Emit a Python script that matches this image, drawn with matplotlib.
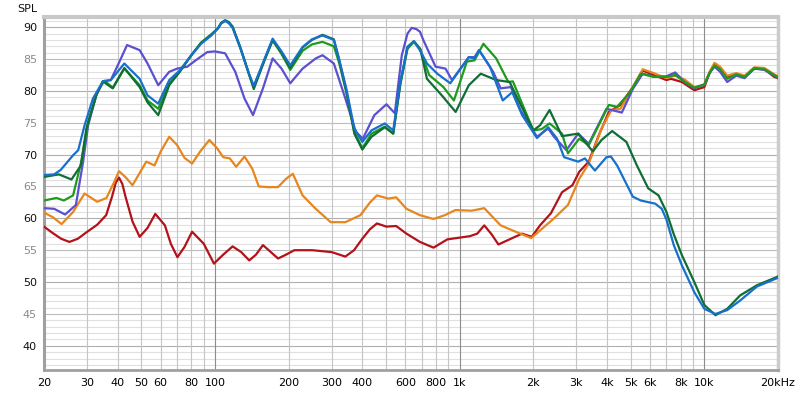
import matplotlib
matplotlib.use('Agg')
import matplotlib.pyplot as plt

# frequency (Hz), level (dB SPL)
red_pts = [(20, 58.7), (21.7, 57.7), (23.5, 56.8), (25.4, 56.3), (27.5, 56.8), (29.8, 57.8), (33, 59.0),
           (35.9, 60.5), (38, 63.5), (39.3, 65.6), (40.5, 66.4), (41.8, 65.4), (43, 63.5), (46, 59.5),
           (49.2, 57.1), (53, 58.5), (57, 60.7), (62.4, 58.9), (66, 56.0), (70.2, 53.9), (75, 55.5),
           (80.6, 57.9), (90, 56.0), (99, 52.9), (108, 54.3), (118, 55.6), (128, 54.7), (138, 53.4),
           (147, 54.3), (157, 55.8), (168, 54.8), (181, 53.7), (195, 54.3), (211, 55.0), (250, 55.0),
           (300, 54.7), (341, 54.0), (370, 55.0), (400, 56.8), (430, 58.3), (459, 59.2), (502, 58.7),
           (550, 58.8), (606, 57.6), (688, 56.3), (782, 55.4), (890, 56.7), (1100, 57.2), (1180, 57.6),
           (1260, 58.9), (1350, 57.5), (1440, 55.9), (1640, 56.9), (1800, 57.6), (1970, 57.1),
           (2130, 58.9), (2360, 60.8), (2620, 64.1), (2890, 65.2), (3080, 67.3), (3370, 68.9),
           (3700, 73.0), (4070, 76.7), (4540, 77.8), (5100, 80.6), (5600, 83.2), (6200, 82.5),
           (7000, 81.7), (7300, 81.9), (8100, 81.4), (9100, 80.1), (10000, 80.6), (10500, 82.8),
           (11000, 84.1), (11600, 83.6), (12400, 82.2), (13500, 82.6), (14600, 82.2), (16000, 83.5),
           (17600, 83.4), (19300, 82.2), (20000, 82.0)]

orange_pts = [(20, 60.9), (21.7, 60.2), (23.6, 59.1), (26.3, 61.0), (29.3, 63.9), (33, 62.6), (36, 63.2),
              (38.5, 65.5), (40.5, 67.4), (43, 66.5), (46, 65.2), (49, 67.0), (52.4, 68.9), (56.6, 68.3),
              (60, 70.5), (65, 72.8), (70, 71.5), (75, 69.5), (80.6, 68.6), (87, 70.5), (94.8, 72.3),
              (102, 71.0), (108, 69.6), (115, 69.4), (122, 68.1), (132, 69.7), (142, 67.8), (151, 65.0),
              (165, 64.9), (181, 64.9), (195, 66.2), (208, 67.0), (228, 63.6), (258, 61.5), (297, 59.4),
              (341, 59.4), (393, 60.5), (430, 62.5), (459, 63.6), (511, 63.1), (550, 63.3), (606, 61.5),
              (688, 60.5), (782, 59.9), (870, 60.5), (961, 61.3), (1120, 61.2), (1260, 61.6),
              (1470, 58.9), (1670, 58.0), (1960, 56.9), (2130, 58.1), (2430, 60.0), (2770, 62.1),
              (3080, 66.2), (3370, 68.6), (3800, 74.1), (4170, 77.0), (4540, 77.2), (5100, 80.6),
              (5600, 83.4), (6200, 82.8), (7000, 82.0), (7600, 82.4), (8300, 81.8), (9100, 80.6),
              (10000, 81.0), (10500, 83.0), (11000, 84.4), (11600, 83.8), (12400, 82.4), (13500, 82.8),
              (14600, 82.4), (16000, 83.7), (17600, 83.6), (19300, 82.6), (20000, 82.3)]

purple_pts = [(20, 61.6), (22, 61.5), (24.4, 60.6), (27, 62.1), (28.9, 68.9), (30.3, 74.6), (32.7, 79.3),
              (34.8, 81.5), (37.5, 81.7), (40.7, 84.6), (43.7, 87.2), (49.2, 86.4), (53, 84.3),
              (58.6, 80.9), (65, 83.0), (70, 83.5), (77, 83.8), (83.4, 84.8), (93, 86.1), (100, 86.2),
              (110, 85.9), (121, 83.0), (132, 78.8), (143, 76.2), (157, 80.4), (172, 85.1), (187, 83.5),
              (203, 81.2), (228, 83.5), (258, 85.1), (275, 85.6), (306, 84.3), (341, 78.8), (376, 73.6),
              (402, 72.5), (448, 76.2), (502, 77.9), (543, 76.5), (580, 85.6), (612, 89.0), (637, 89.9),
              (665, 89.7), (688, 89.3), (710, 88.0), (797, 83.8), (875, 83.5), (930, 81.7), (1090, 85.3),
              (1150, 85.3), (1200, 86.4), (1370, 83.0), (1470, 80.4), (1620, 80.6), (1770, 77.0),
              (2070, 72.8), (2300, 74.1), (2430, 72.8), (2730, 70.7), (3050, 73.3), (3370, 71.7),
              (3980, 77.2), (4600, 76.6), (5100, 80.3), (5600, 82.7), (6300, 82.2), (7000, 82.3),
              (7600, 82.9), (8300, 81.4), (9100, 80.4), (10000, 81.0), (10500, 82.8), (11000, 83.8),
              (11600, 83.0), (12400, 81.4), (13500, 82.4), (14600, 82.0), (16000, 83.5), (17600, 83.3),
              (19300, 82.4), (20000, 82.2)]

green_pts = [(20, 62.8), (22.5, 63.2), (24.1, 62.8), (26.3, 63.6), (28.4, 68.9), (30.3, 75.1), (33, 79.8),
             (35.3, 81.6), (38.2, 80.5), (42.6, 83.5), (49.2, 80.9), (53, 78.5), (58.6, 77.2), (65, 81.2),
             (71.7, 83.0), (80, 85.6), (87.7, 87.6), (96.6, 88.9), (102.7, 89.8), (106, 90.6), (110, 91.0),
             (114, 90.7), (118, 90.0), (127, 86.7), (138, 82.5), (144, 80.6), (160, 85.0), (172, 87.9),
             (187, 85.8), (203, 83.3), (228, 86.3), (249, 87.3), (275, 87.7), (306, 87.0), (321, 84.5),
             (344, 79.8), (371, 73.6), (400, 71.0), (436, 73.3), (494, 74.4), (535, 73.3), (572, 81.0),
             (612, 86.6), (650, 87.7), (690, 86.5), (750, 82.5), (858, 80.6), (947, 78.5), (1070, 84.6),
             (1150, 84.8), (1250, 87.4), (1410, 85.1), (1580, 81.4), (1650, 81.5), (1800, 78.0),
             (2000, 73.8), (2160, 74.0), (2330, 74.9), (2620, 73.3), (2770, 70.2), (3080, 72.5),
             (3370, 71.5), (4070, 77.8), (4400, 77.5), (4970, 79.8), (5500, 82.7), (6200, 82.2),
             (7000, 82.2), (7600, 82.5), (8300, 81.4), (9100, 80.5), (10000, 81.0), (10500, 82.8),
             (11000, 84.0), (11600, 83.4), (12400, 81.9), (13500, 82.6), (14600, 82.2), (16000, 83.6),
             (17600, 83.4), (19300, 82.5), (20000, 82.0)]

dkgreen_pts = [(20, 66.5), (23, 66.9), (25.9, 66.1), (28.3, 68.3), (29.8, 74.1), (32.7, 79.3), (34.8, 81.5),
               (38.2, 80.4), (42.6, 83.6), (49.2, 80.6), (53, 78.2), (58.6, 76.2), (65, 80.9), (71.7, 83.0),
               (80, 85.6), (87.7, 87.5), (96.6, 88.8), (102.7, 89.8), (106, 90.7), (110, 91.1), (114, 90.8),
               (118, 90.1), (127, 86.8), (138, 82.5), (144, 80.3), (160, 85.0), (172, 88.0), (187, 86.0),
               (203, 83.6), (228, 86.8), (249, 88.0), (275, 88.8), (306, 88.1), (321, 85.0), (344, 80.0),
               (371, 73.3), (400, 70.8), (436, 72.8), (494, 74.3), (535, 73.3), (572, 81.2), (612, 86.9),
               (650, 87.8), (690, 86.6), (735, 81.9), (845, 79.3), (963, 76.7), (1090, 80.9), (1220, 82.7),
               (1410, 81.7), (1600, 81.4), (1700, 79.3), (2000, 73.8), (2130, 74.6), (2330, 77.0),
               (2620, 72.9), (3050, 73.3), (3500, 70.5), (3800, 72.3), (4200, 73.7), (4800, 72.0),
               (5300, 68.3), (5900, 64.7), (6500, 63.6), (7000, 61.0), (7500, 57.5), (8100, 54.2),
               (9100, 50.0), (10000, 46.4), (11100, 44.8), (12400, 45.8), (14000, 47.9), (16400, 49.5),
               (19800, 50.8), (20000, 50.9)]

blue_pts = [(20, 66.8), (22, 66.9), (23.4, 67.6), (26.3, 69.9), (27.6, 70.7), (29.3, 74.6), (31.7, 78.8),
            (34.8, 81.5), (37.5, 81.7), (42.6, 84.3), (49.2, 81.9), (53, 79.3), (58.6, 78.0), (65, 81.7),
            (71.7, 83.2), (80, 85.6), (87.7, 87.4), (96.6, 88.7), (102.7, 89.8), (106, 90.6), (110, 91.0),
            (114, 90.6), (118, 89.9), (127, 86.7), (138, 82.6), (144, 80.8), (160, 85.2), (172, 88.2),
            (187, 86.2), (203, 84.0), (228, 86.9), (249, 88.1), (275, 88.7), (306, 88.0), (321, 85.1),
            (344, 80.4), (371, 74.1), (400, 72.0), (436, 73.8), (494, 74.9), (535, 73.8), (572, 81.4),
            (612, 86.9), (650, 87.8), (690, 86.3), (735, 84.3), (810, 82.7), (915, 81.2), (1090, 85.3),
            (1150, 85.1), (1200, 86.4), (1330, 83.8), (1500, 78.5), (1640, 79.8), (1800, 76.2),
            (2070, 72.6), (2300, 74.3), (2500, 72.5), (2670, 69.6), (3050, 68.9), (3250, 69.4),
            (3570, 67.5), (3980, 69.6), (4150, 69.7), (4400, 68.3), (5100, 63.4), (5500, 62.8),
            (6300, 62.3), (6700, 61.5), (7000, 59.8), (7500, 55.8), (8100, 52.6), (9100, 48.4),
            (10000, 45.8), (11100, 45.0), (12400, 45.6), (14000, 47.1), (16400, 49.3), (19800, 50.6),
            (20000, 50.7)]

curves = [(red_pts, '#b3121a'), (orange_pts, '#e8861e'), (purple_pts, '#5a50d0'),
          (green_pts, '#1e9a1e'), (dkgreen_pts, '#0f6e35'), (blue_pts, '#1670cc')]

xtick_vals = [20, 30, 40, 50, 60, 80, 100, 200, 300, 400, 600, 800, 1000, 2000, 3000, 4000, 5000,
              6000, 8000, 10000, 20000]
xtick_labels = ['20', '30', '40', '50', '60', '80', '100', '200', '300', '400', '600', '800', '1k',
                '2k', '3k', '4k', '5k', '6k', '8k', '10k', '20kHz']
ytick_vals = [40, 45, 50, 55, 60, 65, 70, 75, 80, 85, 90]

plt.rcParams['font.family'] = ['DejaVu Sans']
fig = plt.figure(figsize=(8, 3.94), dpi=100)
ax = fig.add_axes([44 / 800, 24 / 394, 734 / 800, 353 / 394])
ax.set_xscale('log')
ax.set_xlim(20, 20000)
ax.set_ylim(36.2, 91.6)

# grid
for dec in [10, 100, 1000, 10000]:
    for m in range(1, 10):
        f = m * dec
        if 20 < f < 20000:
            c = '#8c8c8c' if m == 1 else '#c4c4c4'
            ax.axvline(f, color=c, lw=0.8, zorder=1)
for v in range(37, 92):
    if v % 10 == 0:
        c = '#b0b0b0'
    elif v % 5 == 0:
        c = '#bcbcbc'
    else:
        c = '#e0e0e0'
    ax.axhline(v, color=c, lw=0.8, zorder=0.5)

for pts, col in curves:
    fx, fy = zip(*pts)
    ax.plot(fx, fy, color=col, lw=1.6, zorder=3, solid_joinstyle='round')

ax.set_xticks(xtick_vals)
ax.set_xticklabels(xtick_labels)
ax.xaxis.set_minor_locator(matplotlib.ticker.NullLocator())
ax.set_yticks(ytick_vals)
ax.set_yticklabels([str(v) for v in ytick_vals])
for lab, v in zip(ax.get_yticklabels(), ytick_vals):
    lab.set_color('#111111' if v % 10 == 0 else '#8a8a8a')
ax.tick_params(axis='both', length=0, labelsize=8)
ax.tick_params(axis='x', pad=6)
ax.tick_params(axis='y', pad=5)

ax.spines['left'].set_color('#a0a0a0')
ax.spines['left'].set_linewidth(2.2)
ax.spines['bottom'].set_color('#a0a0a0')
ax.spines['bottom'].set_linewidth(2)
ax.spines['top'].set_color('#c8c8c8')
ax.spines['top'].set_linewidth(3)
ax.spines['right'].set_color('#cccccc')
ax.spines['right'].set_linewidth(2.5)

fig.text(17 / 800, 1 - 9 / 394, 'SPL', fontsize=8, ha='left', va='center', color='#111111')

fig.savefig('out.png', dpi=100)
